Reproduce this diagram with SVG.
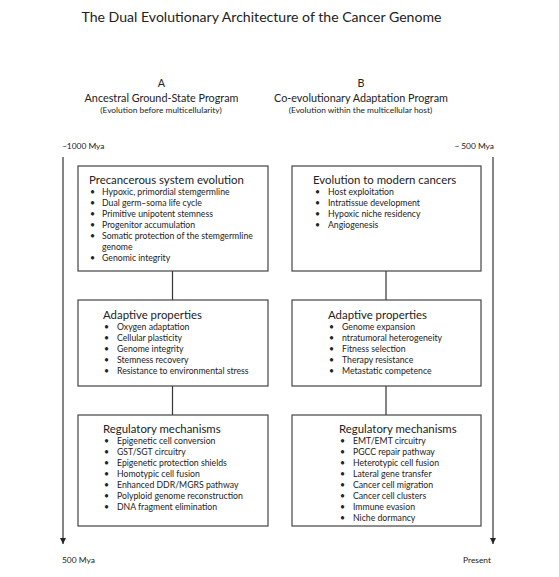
<svg xmlns="http://www.w3.org/2000/svg" width="559" height="577" viewBox="0 0 559 577">
<defs>
<marker id="ah" viewBox="0 0 10 10" refX="10" refY="5" markerWidth="6" markerHeight="7" markerUnits="userSpaceOnUse" orient="auto">
<path d="M0,0 L10,5 L0,10 z" fill="#222"/>
</marker>
<style>
text{font-family:"Lato","Open Sans",sans-serif;fill:#222}
.title{font-size:14.1px}
.lab{font-size:10.8px}
.sub{font-size:8.4px}
.tl{font-size:8.4px}
.h{font-size:11.4px}
.it{font-size:8.7px}
.box{fill:#fff;stroke:#444;stroke-width:1.2}
.con{stroke:#333;stroke-width:1.2;fill:none}
</style>
</defs>
<rect width="559" height="577" fill="#fff"/>
<text class="title" x="261.5" y="22" text-anchor="middle">The Dual Evolutionary Architecture of the Cancer Genome</text>
<g id="header-a">
<text class="lab" x="161.5" y="87" text-anchor="middle">A</text>
<text class="lab" x="161.5" y="102" text-anchor="middle">Ancestral Ground-State Program</text>
<text class="sub" x="161" y="112.5" text-anchor="middle">(Evolution before multicellularity)</text>
</g>
<g id="header-b">
<text class="lab" x="361" y="87" text-anchor="middle">B</text>
<text class="lab" x="361" y="102" text-anchor="middle">Co-evolutionary Adaptation Program</text>
<text class="sub" x="360.5" y="112.5" text-anchor="middle">(Evolution within the multicellular host)</text>
</g>
<g id="connectors">
<line class="con" x1="63" y1="157" x2="63" y2="544" marker-end="url(#ah)"/>
<line class="con" x1="493" y1="157" x2="493" y2="544" marker-end="url(#ah)"/>
<line class="con" x1="172.5" y1="271" x2="172.5" y2="300"/>
<line class="con" x1="172.5" y1="386" x2="172.5" y2="415"/>
<line class="con" x1="386" y1="271" x2="386" y2="300"/>
<line class="con" x1="386" y1="386" x2="386" y2="415"/>
</g>
<g id="timeline-labels">
<text class="tl" x="62" y="149">~1000 Mya</text>
<text class="tl" x="494" y="149" text-anchor="end">~ 500 Mya</text>
<text class="tl" x="62" y="563">500 Mya</text>
<text class="tl" x="491" y="563" text-anchor="end">Present</text>
</g>
<g id="a1">
<rect class="box" x="78" y="166" width="190" height="105"/>
<text class="h" x="89" y="183.5">Precancerous system evolution</text>
<text class="it"><tspan x="90" y="194.5">•</tspan><tspan x="102" y="194.5">Hypoxic, primordial stemgermline</tspan>
<tspan x="90" y="205.5">•</tspan><tspan x="102" y="205.5">Dual germ–soma life cycle</tspan>
<tspan x="90" y="216.5">•</tspan><tspan x="102" y="216.5">Primitive unipotent stemness</tspan>
<tspan x="90" y="227.5">•</tspan><tspan x="102" y="227.5">Progenitor accumulation</tspan>
<tspan x="90" y="238.5">•</tspan><tspan x="102" y="238.5">Somatic protection of the stemgermline</tspan>
<tspan x="102" y="249.5">genome</tspan>
<tspan x="90" y="260.5">•</tspan><tspan x="102" y="260.5">Genomic integrity</tspan></text>
</g>
<g id="b1">
<rect class="box" x="292" y="166" width="189" height="105"/>
<text class="h" x="313" y="183.5">Evolution to modern cancers</text>
<text class="it"><tspan x="315" y="194.5">•</tspan><tspan x="328" y="194.5">Host exploitation</tspan>
<tspan x="315" y="205.5">•</tspan><tspan x="328" y="205.5">Intratissue development</tspan>
<tspan x="315" y="216.5">•</tspan><tspan x="328" y="216.5">Hypoxic niche residency</tspan>
<tspan x="315" y="227.5">•</tspan><tspan x="328" y="227.5">Angiogenesis</tspan></text>
</g>
<g id="a2">
<rect class="box" x="78" y="300" width="190" height="86"/>
<text class="h" x="103" y="318.5">Adaptive properties</text>
<text class="it"><tspan x="104" y="329.5">•</tspan><tspan x="117" y="329.5">Oxygen adaptation</tspan>
<tspan x="104" y="340.5">•</tspan><tspan x="117" y="340.5">Cellular plasticity</tspan>
<tspan x="104" y="351.5">•</tspan><tspan x="117" y="351.5">Genome integrity</tspan>
<tspan x="104" y="362.5">•</tspan><tspan x="117" y="362.5">Stemness recovery</tspan>
<tspan x="104" y="373.5">•</tspan><tspan x="117" y="373.5">Resistance to environmental stress</tspan></text>
</g>
<g id="b2">
<rect class="box" x="292" y="300" width="189" height="86"/>
<text class="h" x="328" y="318.5">Adaptive properties</text>
<text class="it"><tspan x="329" y="329.5">•</tspan><tspan x="342" y="329.5">Genome expansion</tspan>
<tspan x="329" y="340.5">•</tspan><tspan x="342" y="340.5">ntratumoral heterogeneity</tspan>
<tspan x="329" y="351.5">•</tspan><tspan x="342" y="351.5">Fitness selection</tspan>
<tspan x="329" y="362.5">•</tspan><tspan x="342" y="362.5">Therapy resistance</tspan>
<tspan x="329" y="373.5">•</tspan><tspan x="342" y="373.5">Metastatic competence</tspan></text>
</g>
<g id="a3">
<rect class="box" x="78" y="415" width="190" height="111"/>
<text class="h" x="103" y="432.5">Regulatory mechanisms</text>
<text class="it"><tspan x="104" y="443.5">•</tspan><tspan x="117" y="443.5">Epigenetic cell conversion</tspan>
<tspan x="104" y="454.5">•</tspan><tspan x="117" y="454.5">GST/SGT circuitry</tspan>
<tspan x="104" y="465.5">•</tspan><tspan x="117" y="465.5">Epigenetic protection shields</tspan>
<tspan x="104" y="476.5">•</tspan><tspan x="117" y="476.5">Homotypic cell fusion</tspan>
<tspan x="104" y="487.5">•</tspan><tspan x="117" y="487.5">Enhanced DDR/MGRS pathway</tspan>
<tspan x="104" y="498.5">•</tspan><tspan x="117" y="498.5">Polyploid genome reconstruction</tspan>
<tspan x="104" y="509.5">•</tspan><tspan x="117" y="509.5">DNA fragment elimination</tspan></text>
</g>
<g id="b3">
<rect class="box" x="292" y="415" width="189" height="111"/>
<text class="h" x="339" y="432.5">Regulatory mechanisms</text>
<text class="it"><tspan x="340" y="443.5">•</tspan><tspan x="353" y="443.5">EMT/EMT circuitry</tspan>
<tspan x="340" y="454.5">•</tspan><tspan x="353" y="454.5">PGCC repair pathway</tspan>
<tspan x="340" y="465.5">•</tspan><tspan x="353" y="465.5">Heterotypic cell fusion</tspan>
<tspan x="340" y="476.5">•</tspan><tspan x="353" y="476.5">Lateral gene transfer</tspan>
<tspan x="340" y="487.5">•</tspan><tspan x="353" y="487.5">Cancer cell migration</tspan>
<tspan x="340" y="498.5">•</tspan><tspan x="353" y="498.5">Cancer cell clusters</tspan>
<tspan x="340" y="509.5">•</tspan><tspan x="353" y="509.5">Immune evasion</tspan>
<tspan x="340" y="520.5">•</tspan><tspan x="353" y="520.5">Niche dormancy</tspan></text>
</g>
</svg>
